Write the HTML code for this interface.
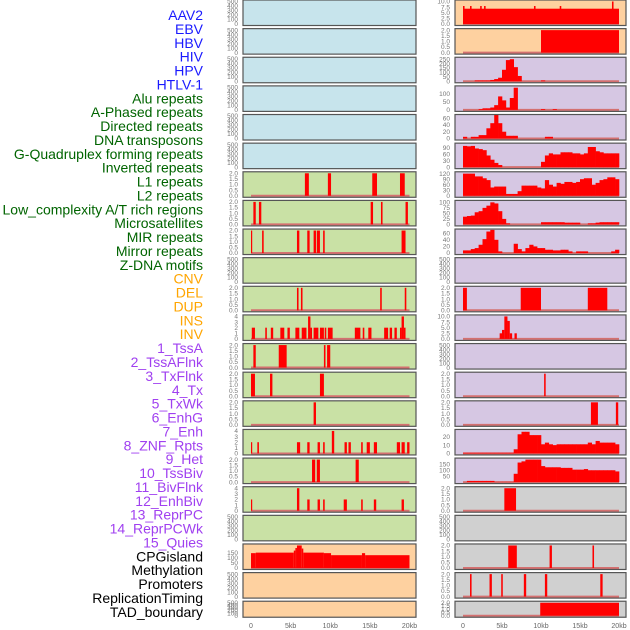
<!DOCTYPE html>
<html><head><meta charset="utf-8">
<style>
html,body{margin:0;padding:0;background:#fff;width:630px;height:630px;overflow:hidden}
svg{display:block;font-family:"Liberation Sans",sans-serif}
</style></head>
<body>
<svg id="chart" width="630" height="630" viewBox="0 0 630 630"></svg>
<script>
// ---- labels ----
const labelNames = ["AAV2","EBV","HBV","HIV","HPV","HTLV-1","Alu repeats","A-Phased repeats","Directed repeats","DNA transposons","G-Quadruplex forming repeats","Inverted repeats","L1 repeats","L2 repeats","Low_complexity A/T rich regions","Microsatellites","MIR repeats","Mirror repeats","Z-DNA motifs","CNV","DEL","DUP","INS","INV","1_TssA","2_TssAFlnk","3_TxFlnk","4_Tx","5_TxWk","6_EnhG","7_Enh","8_ZNF_Rpts","9_Het","10_TssBiv","11_BivFlnk","12_EnhBiv","13_ReprPC","14_ReprPCWk","15_Quies","CPGisland","Methylation","Promoters","ReplicationTiming","TAD_boundary"];
const labelGroups = ["v","v","v","v","v","v","r","r","r","r","r","r","r","r","r","r","r","r","r","s","s","s","s","s","c","c","c","c","c","c","c","c","c","c","c","c","c","c","c","k","k","k","k","k"];
const xTickValues = [0,5,10,15,20];
const xTickLabels = ["0","5kb","10kb","15kb","20kb"];

// ---- left column series (segments [startKb,endKb,value]) ----
const L6 = [[6.8,7.3,2],[9.7,10.1,2],[15.3,15.9,2],[18.8,19.4,2]];
const L7 = [[0.3,0.6,2],[1.0,1.3,2],[15.1,15.4,2],[16.4,16.6,2],[19.5,19.8,2]];
const L8 = [[0,0.15,2],[1.4,1.6,2],[5.8,6.1,2],[7.1,7.4,2],[7.9,8.2,2],[8.3,8.7,2],[9.1,9.3,2],[19.0,19.5,2]];
const L10 = [[5.8,6.0,2],[6.3,6.5,2],[16.3,16.5,2],[19.4,19.6,2]];
const L11 = [[0.1,0.5,2],[1.8,2.0,2],[2.5,2.8,2],[3.7,4.2,2],[4.6,4.9,2],[5.6,6.1,2],[6.4,7.0,2],[7.2,7.5,4],[7.5,7.7,2],[7.9,8.5,2],[8.7,9.2,2],[9.3,9.5,2],[9.7,10.3,2],[13.1,13.8,2],[14.1,14.3,2],[14.8,15.2,2],[16.8,17.3,2],[17.5,17.8,2],[18.1,18.4,2],[18.8,19.0,2],[19.0,19.3,4],[19.3,19.5,2]];
const L12 = [[0.3,0.6,2],[3.5,4.5,2],[9.2,9.4,2],[9.6,10.0,2]];
const L13 = [[0,0.5,2],[2.4,2.7,2],[8.7,9.2,2]];
const L14 = [[7.9,8.2,2]];
const L15 = [[0,0.15,2],[0.8,1.0,2],[5.8,6.2,2],[7.1,7.4,2],[8.4,8.7,2],[9.1,9.3,2],[10.2,10.5,4],[11.8,12.1,2],[12.3,12.6,2],[13.9,14.1,2],[14.6,15.0,2],[15.5,15.9,2],[18.4,18.8,2],[19.0,19.4,2],[19.7,20.0,2]];
const L16 = [[7.7,8.1,2],[8.3,8.7,2],[13.2,13.6,2]];
const L17 = [[0,0.15,2],[5.8,6.1,4],[7.1,7.4,2],[8.4,8.7,2],[9.1,9.3,2],[11.7,12.1,2],[13.9,14.1,2],[15.5,15.8,2],[19.0,19.3,2]];
const L19 = [[0,0.6,145],[0.6,5.4,150],[5.4,5.6,170],[5.6,5.8,195],[5.8,6.4,220],[6.4,6.6,190],[6.6,9.2,150],[9.2,10.1,145],[10.1,14.0,125],[14.0,14.4,145],[14.4,20.0,125]];

// ---- right column series ----
const R0 = [[0,20,6.8],[0,0.2,8],[0.9,1.1,8],[2.2,2.4,8],[2.7,2.9,8],[9.1,9.3,8],[12.4,12.6,8],[19.1,19.3,10]];
const R1 = [[10,20,2]];
// histograms, 0.5kb bins from 0 to 20kb
const R2 = [0,0,0,10,10,10,10,15,25,40,130,240,250,160,60,0,0,0,0,0,10,0,0,0,0,0,0,0,0,0,0,0,0,0,0,0,0,0,0,0];
const R3 = [0,0,0,0,5,10,10,15,30,85,60,15,75,140,0,0,0,0,0,0,5,0,0,5,0,0,0,0,0,0,0,0,0,0,0,0,0,0,0,0];
const R4 = [5,0,5,5,10,10,30,45,70,45,20,8,8,8,0,0,0,0,0,0,0,5,5,0,0,0,0,0,0,0,0,0,0,0,0,0,0,0,0,0];
const R5 = [100,98,100,88,85,80,55,35,20,10,0,0,0,0,0,0,0,0,0,0,25,55,65,60,60,70,70,70,65,65,60,65,95,95,75,70,65,65,65,65];
const R6 = [120,120,120,105,105,95,85,45,50,50,50,10,10,10,25,55,55,55,55,45,40,85,60,50,70,65,75,75,70,75,90,95,95,60,70,85,90,100,100,90];
const R7 = [35,38,40,55,60,75,85,100,95,60,25,5,0,0,0,0,0,0,0,0,10,10,10,10,10,10,8,8,8,8,0,0,5,5,8,10,10,10,10,10];
const R8 = [8,8,12,15,25,42,65,70,40,5,0,0,0,28,12,5,15,25,20,15,15,10,10,8,8,10,10,5,0,5,5,5,0,0,0,0,0,0,5,10];
const R10 = [[0,0.5,2],[7.4,10.0,2],[16.0,18.5,2]];
const R11 = [[4.7,5.0,2.5],[5.0,5.3,4],[5.3,5.7,10],[5.7,6.0,8],[6.0,6.3,2.5],[6.6,6.9,2.5]];
const R13 = [[10.4,10.6,2]];
const R14 = [[16.4,17.3,2],[19.6,19.9,2]];
const R15 = [1,1,1,1,1,1,1,1,1,1,1,1,1,5,23,26,26,22,22,22,11,13,11,10,11,11,11,11,11,11,11,11,13,11,15,13,13,13,13,11];
const R16 = [0,10,10,10,10,10,10,10,2,2,2,2,2,70,165,175,190,190,190,190,135,125,125,125,125,120,120,120,105,105,105,110,100,100,100,100,100,100,100,90];
const R17 = [[5.3,6.8,2]];
const R19 = [[5.8,6.9,2],[11.1,11.4,2],[16.6,16.8,2]];
const R20 = [[0.9,1.1,2],[3.4,3.7,2],[4.9,5.1,2],[7.8,8.1,2],[10.5,10.8,2],[17.6,17.9,2]];
const R21 = [[9.9,20,2]];

// tick sets
const T500 = [0,100,200,300,400,500];
const T2 = [0,0.5,1,1.5,2];
const T4 = [0,1,2,3,4];

const COL = {blue:"#c7e4ec",green:"#c9e1a5",orange:"#fed1a0",purple:"#d6c7e3",grey:"#d0d0d0"};
const TXT = {v:"#1a1aff",r:"#006400",s:"#ffa500",c:"#a040f0",k:"#000"};

// panel specs: [bg, kind, data, ymax, ticks, tickFmt]
function E(bg){return {bg:bg,kind:"none",data:null,ymax:500,ticks:T500,fmt:0};}
function S(bg,d,ymax,ticks,fmt){return {bg:bg,kind:"seg",data:d,ymax:ymax,ticks:ticks,fmt:fmt};}
function H(bg,d,ymax,ticks,fmt){return {bg:bg,kind:"hist",data:d,ymax:ymax,ticks:ticks,fmt:fmt};}

const leftPanels = [
 E(COL.blue),E(COL.blue),E(COL.blue),E(COL.blue),E(COL.blue),E(COL.blue),
 S(COL.green,L6,2,T2,1),S(COL.green,L7,2,T2,1),S(COL.green,L8,2,T2,1),E(COL.green),
 S(COL.green,L10,2,T2,1),S(COL.green,L11,4,T4,0),S(COL.green,L12,2,T2,1),S(COL.green,L13,2,T2,1),
 S(COL.green,L14,2,T2,1),S(COL.green,L15,4,T4,0),S(COL.green,L16,2,T2,1),S(COL.green,L17,4,T4,0),
 E(COL.green),S(COL.orange,L19,220,[0,50,100,150],0),E(COL.orange),E(COL.orange)
];
const rightPanels = [
 S(COL.orange,R0,10,[0,2.5,5,7.5,10],1),S(COL.orange,R1,2,T2,1),
 H(COL.purple,R2,255,[0,50,100,150,200,250],0),H(COL.purple,R3,142,[0,50,100],0),
 H(COL.purple,R4,66,[0,20,40,60],0),H(COL.purple,R5,106,[0,30,60,90],0),
 H(COL.purple,R6,122,[0,30,60,90,120],0),H(COL.purple,R7,102,[0,25,50,75,100],0),
 H(COL.purple,R8,68,[0,20,40,60],0),E(COL.purple),
 S(COL.purple,R10,2,T2,1),S(COL.purple,R11,10,[0,2.5,5,7.5,10],1),E(COL.purple),
 S(COL.purple,R13,2,T2,1),S(COL.purple,R14,2,T2,1),
 H(COL.purple,R15,27,[0,10,20],0),H(COL.purple,R16,190,[50,100,150],0),
 S(COL.grey,R17,2,T2,1),E(COL.grey),S(COL.grey,R19,2,T2,1),S(COL.grey,R20,2,T2,1),S(COL.grey,R21,2,T2,1)
];

const NS="http://www.w3.org/2000/svg";
const svg=document.getElementById("chart");
function mk(tag,attrs,parent){const e=document.createElementNS(NS,tag);for(const k in attrs)e.setAttribute(k,attrs[k]);(parent||svg).appendChild(e);return e;}

// labels
labelNames.forEach(function(n,i){
  const t=mk("text",{x:203,y:15+i*13.88+5,"text-anchor":"end","font-size":"14",fill:TXT[labelGroups[i]]});
  t.textContent=n;
  
  
});

function drawColumn(panels,bx,bw,x0,x20,side){
  const xs=function(kb){return x0+(x20-x0)*kb/20;};
  panels.forEach(function(p,i){
    const top=i*28.63;
    const h=(i===panels.length-1)?16:25.5;
    const g=mk("g",{});
    
    
    const bg=mk("rect",{x:bx,y:top,width:bw,height:h,fill:p.bg},g);
    
    
    const yb=top+h-1.5, yt=top+1.5;
    const ys=function(v){return yb-(yb-yt)*v/p.ymax;};
    if(p.kind!=="none"){
      const base=mk("line",{x1:xs(0),x2:xs(20),y1:yb,y2:yb,stroke:"#d47070","stroke-width":2},g);
      
      
    }
    if(p.kind==="seg"){
      p.data.forEach(function(s){
        const r=mk("rect",{x:xs(s[0]),y:ys(s[2]),width:Math.max(1.2,xs(s[1])-xs(s[0])),height:yb-ys(s[2]),fill:"#ff0000"},g);
        
        
      });
    } else if(p.kind==="hist"){
      p.data.forEach(function(v,k){
        if(v<=0)return;
        const r=mk("rect",{x:xs(k*0.5),y:ys(v),width:xs((k+1)*0.5)-xs(k*0.5)+0.3,height:yb-ys(v),fill:"#ff0000"},g);
        
        
      });
    }
    const br=mk("rect",{x:bx,y:top,width:bw,height:h,fill:"none",stroke:"#555","stroke-width":1.2},g);
    
    
    p.ticks.forEach(function(tv){
      const t=mk("text",{x:bx-5,y:ys(tv)+2.2,"text-anchor":"end","font-size":"6.5",fill:"#777"},g);
      t.textContent=p.fmt?tv.toFixed(1):String(tv);
      
      
    });
  });
  xTickValues.forEach(function(v,k){
    const t=mk("text",{x:xs(v),y:628,"text-anchor":"middle","font-size":"7",fill:"#666"});
    t.textContent=xTickLabels[k];
    
    
  });
}
drawColumn(leftPanels,243,173,251,409.5,"left");
drawColumn(rightPanels,455,171,463,619,"right");
</script>
</body></html>
